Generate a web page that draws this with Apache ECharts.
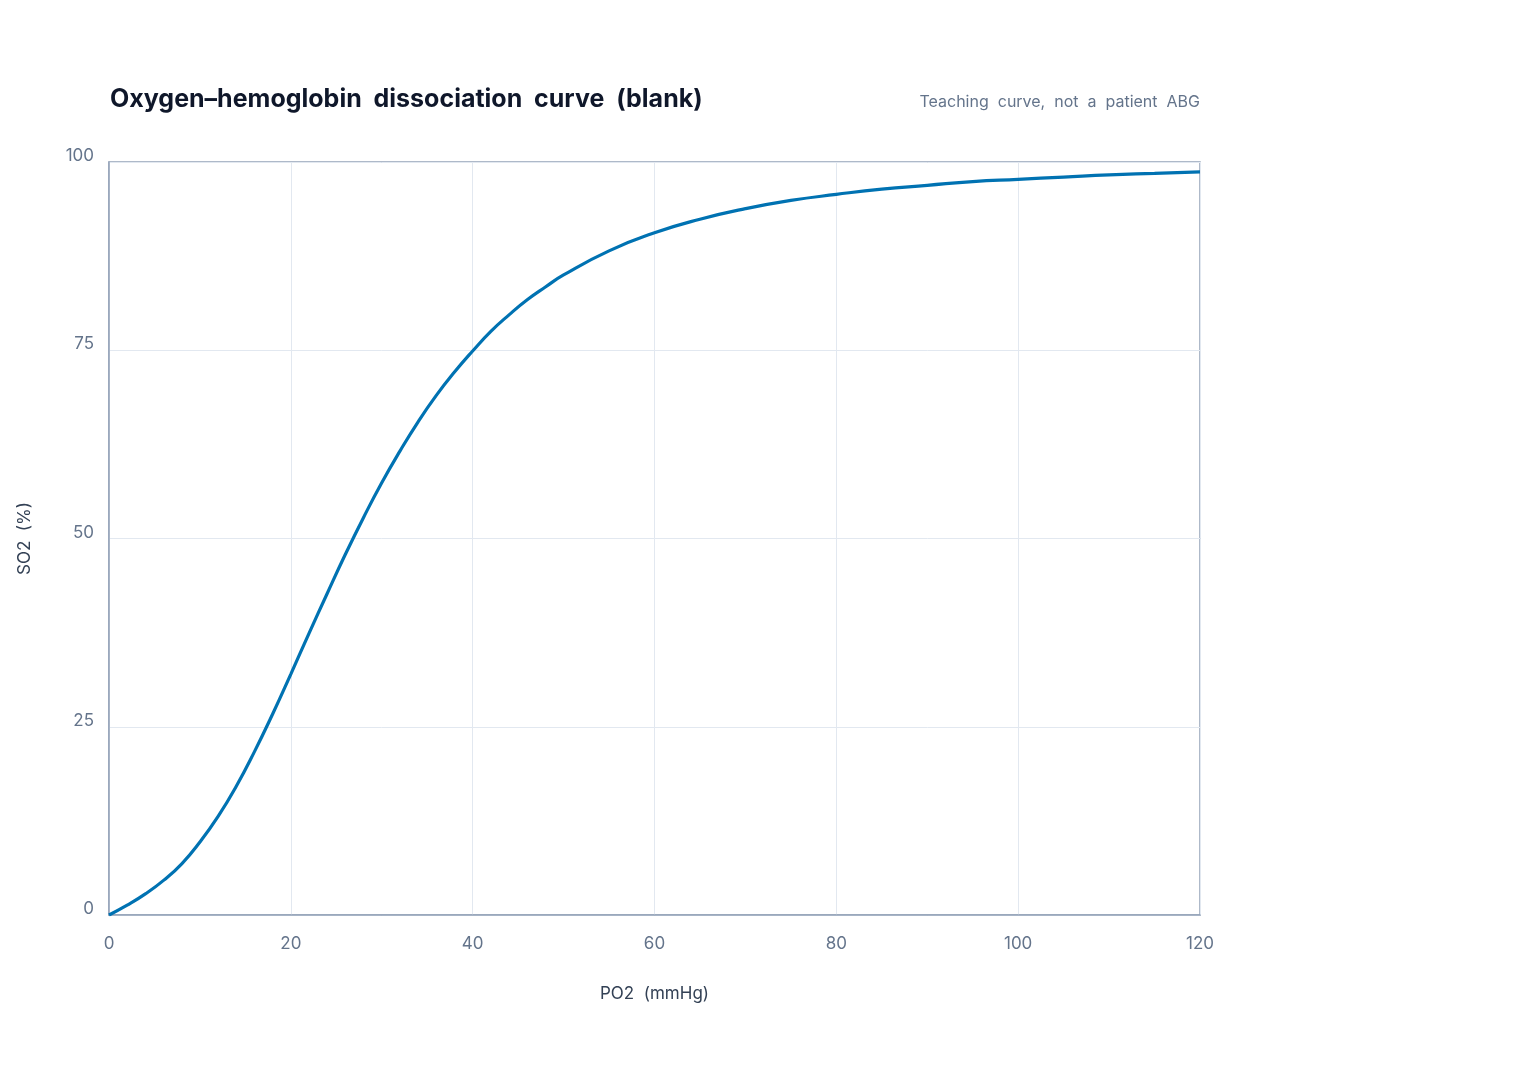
<!DOCTYPE html>
<html>
<head>
<meta charset="utf-8">
<title>Oxygen-hemoglobin dissociation curve</title>
<script src="https://cdn.jsdelivr.net/npm/echarts@6/dist/echarts.min.js"></script>
<style>
  html, body { margin: 0; padding: 0; background: #ffffff; }
  #chart { width: 1520px; height: 1080px; }
</style>
</head>
<body>
<div id="chart"></div>
<script>
// PO2 (mmHg) and SO2 (%)
var po2 = [0, 2, 4, 6, 8, 10, 12, 14, 16, 18, 20, 22, 24, 26, 28, 30, 32, 34, 36, 38,
           40, 42, 44, 46, 48, 50, 55, 60, 65, 70, 75, 80, 85, 90, 95, 100, 105, 110, 115, 120];
var so2 = [0, 1.3, 2.8, 4.6, 6.8, 9.7, 13.1, 17.1, 21.7, 26.7, 32.0, 37.4, 42.7, 47.9, 52.8, 57.4, 61.6, 65.5, 69.0, 72.1,
           74.9, 77.5, 79.7, 81.7, 83.4, 85.0, 88.2, 90.6, 92.4, 93.8, 94.9, 95.7, 96.4, 96.9, 97.4, 97.7, 98.0, 98.3, 98.5, 98.7];
var xTicks = [0, 20, 40, 60, 80, 100, 120];
var yTicks = [0, 25, 50, 75, 100];

var points = po2.map(function (p, i) { return [p, so2[i]]; });

var myChart = echarts.init(document.getElementById('chart'));
var font = 'Inter, "Noto Sans", sans-serif';

option = {
    animation: false,
    backgroundColor: '#ffffff',
    textStyle: { fontFamily: font },
    title: [
        {
            text: 'Oxygen\u2013hemoglobin  dissociation  curve  (blank)',
            left: 105,
            top: 82,
            textStyle: { fontFamily: font, fontSize: 25, fontWeight: 'bold', color: '#0f172a' }
        },
        {
            text: 'Teaching  curve,  not  a  patient  ABG',
            right: 315,
            top: 89,
            textStyle: { fontFamily: font, fontSize: 16, fontWeight: 'normal', color: '#64748b' }
        }
    ],
    grid: {
        left: 109,
        top: 162,
        width: 1091,
        height: 753,
        show: true,
        borderColor: '#94a3b8',
        borderWidth: 1.5,
        backgroundColor: 'transparent'
    },
    xAxis: {
        type: 'value',
        min: xTicks[0],
        max: xTicks[xTicks.length - 1],
        interval: 20,
        name: 'PO2  (mmHg)',
        nameLocation: 'middle',
        nameGap: 70,
        nameTextStyle: { fontFamily: font, fontSize: 17, color: '#334155' },
        axisLine: { show: true, lineStyle: { color: '#94a3b8', width: 1.5 } },
        axisTick: { show: false },
        axisLabel: { fontFamily: font, fontSize: 17, color: '#64748b', margin: 20 },
        splitLine: { show: true, lineStyle: { color: '#e2e8f0', width: 1 } }
    },
    yAxis: {
        type: 'value',
        min: yTicks[0],
        max: yTicks[yTicks.length - 1],
        interval: 25,
        name: 'SO2  (%)',
        nameLocation: 'middle',
        nameGap: 76,
        nameTextStyle: { fontFamily: font, fontSize: 17, color: '#334155' },
        axisLine: { show: true, lineStyle: { color: '#94a3b8', width: 1.5 } },
        axisTick: { show: false },
        axisLabel: { fontFamily: font, fontSize: 17, color: '#64748b', margin: 15, verticalAlign: 'bottom', lineHeight: 12 },
        splitLine: { show: true, lineStyle: { color: '#e2e8f0', width: 1 } }
    },
    series: [{
        name: 'SO2',
        type: 'line',
        data: points,
        smooth: true,
        showSymbol: false,
        lineStyle: { color: '#0072b2', width: 3.2 }
    }]
};

myChart.setOption(option);
</script>
</body>
</html>
